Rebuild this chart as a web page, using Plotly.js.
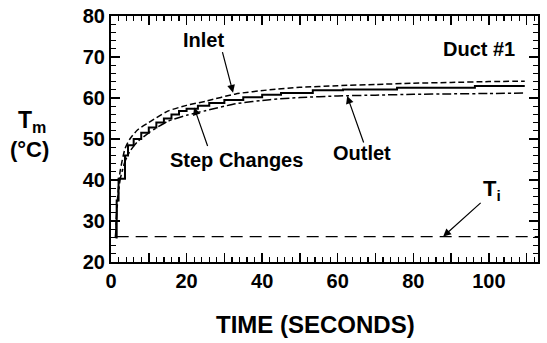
<!DOCTYPE html>
<html>
<head>
<meta charset="utf-8">
<script src="https://cdn.plot.ly/plotly-3.0.1.min.js"></script>
<style>
html,body{margin:0;padding:0;background:#fff;}
#chart{width:547px;height:343px;}
</style>
</head>
<body>
<div id="chart"></div>
<script>
// Inlet (dashed)
var inletTime = [1.2, 1.6, 2.4, 3.7, 5, 7, 10, 15, 20, 25, 33, 42, 50, 60, 70, 80, 90, 100, 109.5];
var inletTemp = [26, 34, 42, 47.6, 50, 52.2, 54, 56.8, 58.2, 59.2, 61, 62, 62.6, 63, 63.3, 63.6, 63.8, 64, 64.1];
// Outlet (dash-dot)
var outletTime = [1.2, 1.6, 2.4, 3.7, 5, 7, 10, 15, 20, 25, 33, 42, 50, 60, 70, 80, 90, 100, 109.5];
var outletTemp = [26, 33, 40, 44.5, 47, 49.3, 51.5, 54.3, 55.8, 56.9, 58.6, 59.6, 60.1, 60.5, 60.7, 60.9, 61, 61.1, 61.2];
// Step changes (solid)
var stepTime = [1.2, 1.5, 2, 3.7, 4.5, 6, 8, 10, 12, 14, 16, 18, 20, 23, 26, 30, 35, 40, 45, 53.4, 61.4, 75.7, 96.3, 109.5];
var stepTemp = [26, 35, 40.3, 46, 48.5, 50, 51.5, 52.8, 54, 55, 56, 56.8, 57.4, 58.1, 58.8, 59.5, 60.2, 60.8, 61.2, 61.9, 62.1, 62.5, 62.9, 62.9];
// Initial temperature
var tiTime = [1.5, 113];
var tiTemp = [26.2, 26.2];

var xTickVals = [0, 10, 20, 30, 40, 50, 60, 70, 80, 90, 100, 110];
var xTickText = ['0', '', '20', '', '40', '', '60', '', '80', '', '100', ''];
var yTickVals = [20, 30, 40, 50, 60, 70, 80];

var FONT = 'Liberation Sans, Arial, sans-serif';

var traces = [
  {x: tiTime, y: tiTemp, mode: 'lines', line: {color: '#000', width: 1.3, dash: '12px,7px'}, hoverinfo: 'skip'},
  {x: inletTime, y: inletTemp, mode: 'lines', line: {color: '#000', width: 1.5, dash: '6px,3px', shape: 'spline', smoothing: 0.6}},
  {x: outletTime, y: outletTemp, mode: 'lines', line: {color: '#000', width: 1.5, dash: 'dashdot', shape: 'spline', smoothing: 0.6}},
  {x: stepTime, y: stepTemp, mode: 'lines', line: {color: '#000', width: 2, shape: 'hv'}}
];

function makeAxis(extra) {
  var a = {
    showline: true, linecolor: '#000', linewidth: 2, mirror: 'ticks',
    ticks: 'inside', ticklen: 9, tickwidth: 1.5, tickcolor: '#000',
    showgrid: false, zeroline: false, layer: 'above traces',
    tickfont: {family: FONT, size: 20, color: '#000', weight: 'bold'},
    minor: {dtick: 2, ticks: 'inside', ticklen: 5, tickwidth: 1.2, tickcolor: '#000'}
  };
  for (var k in extra) a[k] = extra[k];
  return a;
}

var layout = {
  width: 547, height: 343,
  margin: {l: 111, r: 9, t: 16, b: 81},
  paper_bgcolor: '#fff', plot_bgcolor: '#fff',
  showlegend: false,
  xaxis: makeAxis({range: [0, 113], tickmode: 'array', tickvals: xTickVals, ticktext: xTickText}),
  yaxis: makeAxis({range: [20, 80], tickmode: 'array', tickvals: yTickVals}),
  annotations: [
    {text: 'Inlet', x: 24.6, y: 74.1, xref: 'x', yref: 'y', showarrow: false, font: {family: FONT, size: 20, color: '#000', weight: 'bold'}},
    {text: 'Duct #1', x: 97.4, y: 72.0, xref: 'x', yref: 'y', showarrow: false, font: {family: FONT, size: 20, color: '#000', weight: 'bold'}},
    {text: 'Step Changes', x: 33.1, y: 44.9, xref: 'x', yref: 'y', showarrow: false, font: {family: FONT, size: 20, color: '#000', weight: 'bold'}},
    {text: 'Outlet', x: 66.4, y: 46.6, xref: 'x', yref: 'y', showarrow: false, font: {family: FONT, size: 20, color: '#000', weight: 'bold'}},
    {text: 'T<sub>i</sub>', x: 100.8, y: 37.6, xref: 'x', yref: 'y', showarrow: false, font: {family: FONT, size: 22, color: '#000', weight: 'bold'}},
    // arrows
    {text: '', x: 32.3, y: 61.3, xref: 'x', yref: 'y', ax: -11, ay: -42, showarrow: true, arrowhead: 2, arrowsize: 1.3, arrowwidth: 1.2, arrowcolor: '#000'},
    {text: '', x: 22, y: 57.7, xref: 'x', yref: 'y', ax: 14, ay: 40, showarrow: true, arrowhead: 2, arrowsize: 1.3, arrowwidth: 1.2, arrowcolor: '#000'},
    {text: '', x: 62.5, y: 60.5, xref: 'x', yref: 'y', ax: 17, ay: 48, showarrow: true, arrowhead: 2, arrowsize: 1.3, arrowwidth: 1.2, arrowcolor: '#000'},
    {text: '', x: 87.9, y: 26.2, xref: 'x', yref: 'y', ax: 39, ay: -35, showarrow: true, arrowhead: 2, arrowsize: 1.3, arrowwidth: 1.2, arrowcolor: '#000'},
    // axis titles
    {text: 'T<sub>m</sub>', x: -0.185, y: 0.573, xref: 'paper', yref: 'paper', showarrow: false, xanchor: 'center', yanchor: 'middle', font: {family: FONT, size: 23, color: '#000', weight: 'bold'}},
    {text: '(°C)', x: -0.19, y: 0.459, xref: 'paper', yref: 'paper', showarrow: false, xanchor: 'center', yanchor: 'middle', font: {family: FONT, size: 22, color: '#000', weight: 'bold'}},
    {text: 'TIME (SECONDS)', x: 0.478, y: -0.256, xref: 'paper', yref: 'paper', showarrow: false, xanchor: 'center', yanchor: 'middle', font: {family: FONT, size: 24, color: '#000', weight: 'bold'}}
  ]
};

Plotly.newPlot('chart', traces, layout, {displayModeBar: false, staticPlot: true});
</script>
</body>
</html>
